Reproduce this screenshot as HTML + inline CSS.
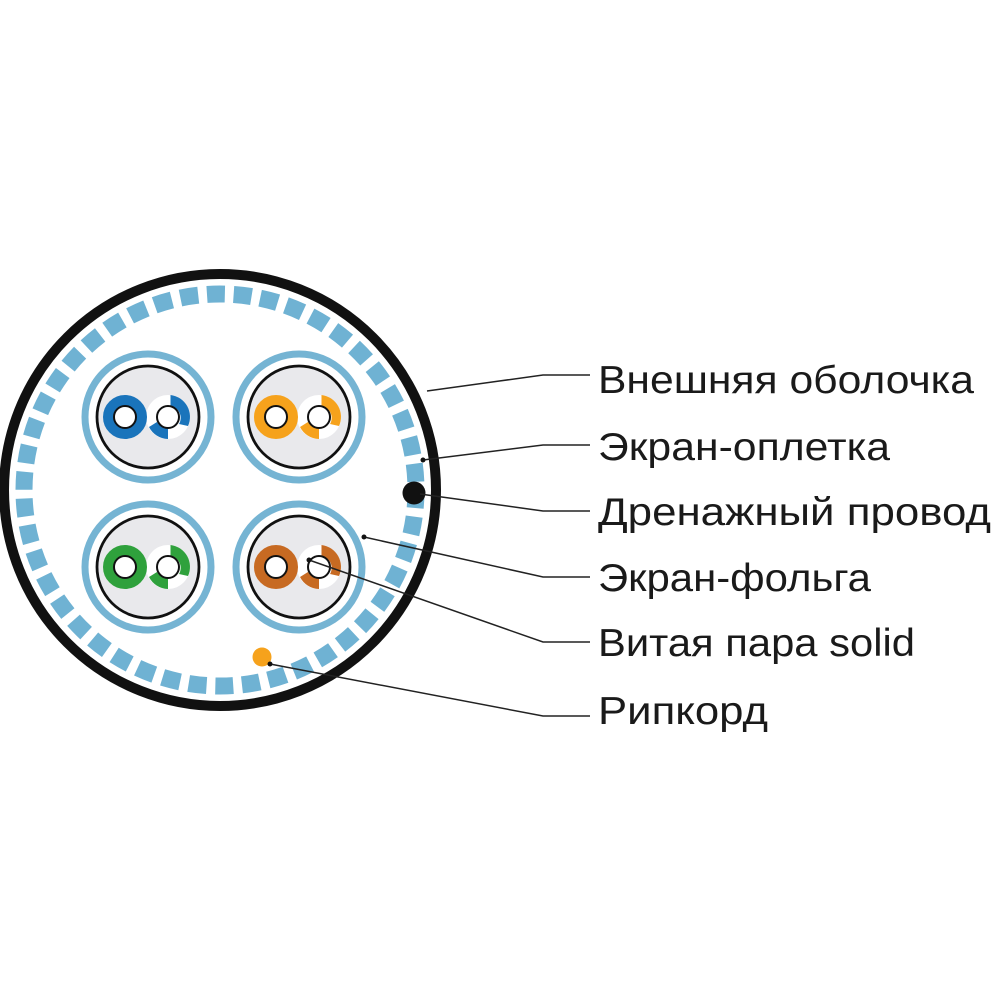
<!DOCTYPE html>
<html><head><meta charset="utf-8"><style>
html,body{margin:0;padding:0;background:#fff;}
svg{display:block}
text{font-family:"Liberation Sans",sans-serif;font-size:39px;fill:#1a1a1a}
</style></head><body>
<svg width="1000" height="1000" viewBox="0 0 1000 1000" xmlns="http://www.w3.org/2000/svg">
<defs>
<g id="pairbase">
  <circle r="63" fill="none" stroke="#75b4d3" stroke-width="7"/>
  <circle r="51" fill="#e9e9ec" stroke="#111" stroke-width="2.8"/>
  <circle cx="20" cy="0" r="22" fill="#fff"/>
</g>
</defs>
<circle cx="220" cy="490" r="216" fill="#fff" stroke="#111" stroke-width="10"/>
<circle cx="220" cy="490" r="196" fill="none" stroke="#6fb2d3" stroke-width="17" stroke-dasharray="18 8.77"/>

<!-- pairs -->
<g id="p1" transform="translate(148,417)">
  <use href="#pairbase"/>
  <circle cx="-23" cy="0" r="16.5" fill="none" stroke="#1a74bb" stroke-width="11"/>
  <circle cx="-23" cy="0" r="11" fill="#fff" stroke="#111" stroke-width="2"/>
  <path d="M 20 -22 A 22 22 0 0 1 20 22" fill="none" stroke="#1a74bb" stroke-width="0"/>
  <path d="M 22.5 -22 A 22 22 0 0 1 40 9 L 31 7 A 12 12 0 0 0 22.5 -11 Z" fill="#1a74bb"/>
  <path d="M 20 22 A 22 22 0 0 1 1 10 L 9 5 A 12 12 0 0 0 20 11 Z" fill="#1a74bb"/>
  <circle cx="20" cy="0" r="11" fill="#fff" stroke="#111" stroke-width="2"/>
</g>
<g transform="translate(299,417)">
  <use href="#pairbase"/>
  <circle cx="-23" cy="0" r="16.5" fill="none" stroke="#f6a21c" stroke-width="11"/>
  <circle cx="-23" cy="0" r="11" fill="#fff" stroke="#111" stroke-width="2"/>
  <path d="M 22.5 -22 A 22 22 0 0 1 40 9 L 31 7 A 12 12 0 0 0 22.5 -11 Z" fill="#f6a21c"/>
  <path d="M 20 22 A 22 22 0 0 1 1 10 L 9 5 A 12 12 0 0 0 20 11 Z" fill="#f6a21c"/>
  <circle cx="20" cy="0" r="11" fill="#fff" stroke="#111" stroke-width="2"/>
</g>
<g transform="translate(148,567)">
  <use href="#pairbase"/>
  <circle cx="-23" cy="0" r="16.5" fill="none" stroke="#2fa13c" stroke-width="11"/>
  <circle cx="-23" cy="0" r="11" fill="#fff" stroke="#111" stroke-width="2"/>
  <path d="M 22.5 -22 A 22 22 0 0 1 40 9 L 31 7 A 12 12 0 0 0 22.5 -11 Z" fill="#2fa13c"/>
  <path d="M 20 22 A 22 22 0 0 1 1 10 L 9 5 A 12 12 0 0 0 20 11 Z" fill="#2fa13c"/>
  <circle cx="20" cy="0" r="11" fill="#fff" stroke="#111" stroke-width="2"/>
</g>
<g transform="translate(299,567)">
  <use href="#pairbase"/>
  <circle cx="-23" cy="0" r="16.5" fill="none" stroke="#c76a22" stroke-width="11"/>
  <circle cx="-23" cy="0" r="11" fill="#fff" stroke="#111" stroke-width="2"/>
  <path d="M 22.5 -22 A 22 22 0 0 1 40 9 L 31 7 A 12 12 0 0 0 22.5 -11 Z" fill="#c76a22"/>
  <path d="M 20 22 A 22 22 0 0 1 1 10 L 9 5 A 12 12 0 0 0 20 11 Z" fill="#c76a22"/>
  <circle cx="20" cy="0" r="11" fill="#fff" stroke="#111" stroke-width="2"/>
</g>

<!-- drain & ripcord -->
<circle cx="414" cy="493" r="11.5" fill="#111"/>
<circle cx="262" cy="657" r="9.5" fill="#f6a21c"/>

<!-- leaders -->
<g fill="none" stroke="#222" stroke-width="1.5">
  <polyline points="427,391 543,375 590,375"/>
  <polyline points="423,460 543,445 590,445"/>
  <polyline points="420,494 543,511 590,511"/>
  <polyline points="364,537 543,577 590,577"/>
  <polyline points="309,560 543,642 590,642"/>
  <polyline points="270,664 543,716 590,716"/>
</g>
<g fill="#111">
  <circle cx="423" cy="460" r="2.5"/>
  <circle cx="364" cy="537" r="2.5"/>
  <circle cx="309" cy="560" r="2.5"/>
  <circle cx="270" cy="664" r="2.5"/>
</g>

<text x="598" y="393" textLength="376" lengthAdjust="spacingAndGlyphs">Внешняя оболочка</text>
<text x="598" y="460" textLength="292" lengthAdjust="spacingAndGlyphs">Экран-оплетка</text>
<text x="598" y="525" textLength="393" lengthAdjust="spacingAndGlyphs">Дренажный провод</text>
<text x="598" y="591" textLength="273" lengthAdjust="spacingAndGlyphs">Экран-фольга</text>
<text x="598" y="656" textLength="317" lengthAdjust="spacingAndGlyphs">Витая пара solid</text>
<text x="598" y="724" textLength="170" lengthAdjust="spacingAndGlyphs">Рипкорд</text>
</svg>
</body></html>
